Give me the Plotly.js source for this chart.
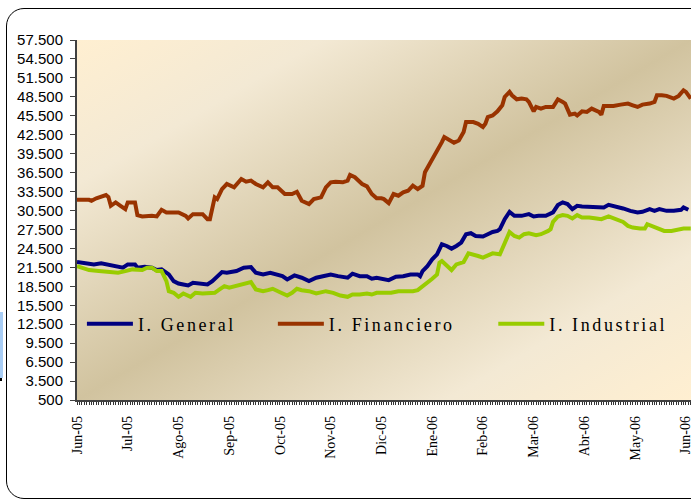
<!DOCTYPE html>
<html><head><meta charset="utf-8">
<script src="https://cdn.plot.ly/plotly-3.0.1.min.js"></script>
<style>
html,body{margin:0;padding:0;background:#fff;width:691px;height:501px;overflow:hidden}
#frame{position:absolute;left:6px;top:8px;width:740px;height:489px;border:1px solid #000;border-radius:18px;}
#mark{position:absolute;left:0;top:312px;width:3px;height:66px;background:#a8cdf5}
#mark2{position:absolute;left:0;top:378px;width:2px;height:3px;background:#000}
#chart{position:absolute;left:0;top:0;width:691px;height:501px}
svg text.legendtext, svg text.legend2text, svg text.legend3text{letter-spacing:2.6px !important}
</style></head><body>
<div id="frame"></div><div id="mark"></div><div id="mark2"></div>
<div id="chart"></div>
<script>
// Month labels (every 21 trading days)
const monthTickDays = [0,21,42,63,84,105,126,147,168,189,210,231,252];
const monthLabels = ["Jun-05","Jul-05","Ago-05","Sep-05","Oct-05","Nov-05","Dic-05","Ene-06","Feb-06","Mar-06","Abr-06","May-06","Jun-06"];
const yTickVals = [500,3500,6500,9500,12500,15500,18500,21500,24500,27500,30500,33500,36500,39500,42500,45500,48500,51500,54500,57500];
const yTickLabels = ["500","3.500","6.500","9.500","12.500","15.500","18.500","21.500","24.500","27.500","30.500","33.500","36.500","39.500","42.500","45.500","48.500","51.500","54.500","57.500"];

// I. General
const genDays = [0,2,5,7,10,12,15,17,19,21,24,25,28,31,33,35,37,38,40,42,44,46,48,50,52,54,56,58,60,62,65,66,69,72,74,77,80,83,85,87,90,93,96,99,103,105,108,112,114,117,120,122,124,126,129,132,135,138,141,142,143,145,146,147,149,151,153,155,157,159,161,163,165,168,170,172,174,175,177,179,181,184,187,189,191,193,194,197,199,201,203,205,207,209,212,215,218,220,223,226,229,232,234,237,239,241,244,247,250,251,253];
const genVals = [22340,22240,21970,21970,22130,21970,21610,21610,21450,21970,21970,21450,21610,21450,21070,21180,20650,20380,19320,18950,18790,18630,19060,18950,18950,18790,19320,20110,20750,20650,20750,20910,21450,21540,20650,20380,20650,20380,20110,19590,20230,19860,19320,19860,20230,20380,20110,19860,20500,20110,20110,19700,19860,19700,19480,20020,20110,20380,20380,20110,20910,21700,22340,22770,23570,25160,24890,24470,24890,25430,26750,26910,26480,26380,26750,27110,27270,27540,29130,30290,29660,29660,29930,29560,29660,29560,29660,30200,31360,31790,31520,30720,31250,31150,31090,31090,30990,31410,31150,30830,30450,30200,30290,30720,30450,30720,30450,30450,30610,30990,30610];

// I. Financiero
const finDays = [0,5,6,8,12,13,14,16,18,20,21,24,25,27,31,33,35,37,42,45,46,48,52,54,55,56,57,58,60,62,65,68,70,72,74,77,79,81,83,86,89,91,93,96,98,101,103,105,107,110,112,113,115,118,120,122,124,126,127,129,131,133,135,137,139,141,143,144,146,147,149,151,152,154,156,158,160,161,164,166,168,169,170,172,174,176,177,179,180,182,184,186,187,189,190,192,194,197,199,201,202,204,206,207,209,211,213,216,217,218,222,225,228,230,232,234,237,239,240,242,244,247,249,251,252,254];
const finVals = [32200,32200,32040,32430,32950,32630,31250,31790,31250,30720,31790,31790,29770,29560,29660,29560,30610,30200,30200,29660,29240,29930,29930,29130,29130,31250,32580,32310,33900,34700,34170,35500,35070,35230,34700,34170,34970,34170,34170,33110,33110,33470,32040,31520,32310,32580,34170,34970,35070,34970,35230,36130,35770,34700,34330,33110,32430,32430,32310,31680,33110,32840,33380,33630,34430,33900,34430,36560,37880,38410,40000,41330,42130,41590,41220,41590,42920,44510,44510,44240,43720,44240,45310,45560,46200,47160,48490,49290,48750,48110,48220,48110,47700,46200,46900,46630,46900,46900,48110,47700,47430,45680,45840,45560,46200,46110,46630,46110,45680,47060,47060,47270,47430,47160,46900,47270,47430,47700,48750,48750,48650,48220,48650,49540,49290,48220];

// I. Industrial
const indDays = [0,2,5,9,13,17,20,23,27,29,31,33,35,36,37,38,40,42,44,47,49,52,54,57,59,61,63,66,70,72,74,77,79,81,84,87,89,91,93,96,99,101,103,106,109,112,114,117,120,122,124,127,130,133,136,139,141,143,145,147,149,150,151,154,155,157,160,162,164,166,168,170,172,175,177,179,181,183,185,187,190,192,195,196,197,199,201,203,205,207,209,212,215,217,220,223,226,228,230,233,235,236,238,240,243,246,249,251,254];
const indVals = [21700,21450,21070,20910,20810,20650,20910,21180,21070,21450,21450,20910,20910,20110,19320,17730,17470,16840,17360,16840,17470,17360,17360,17470,18000,18520,18270,18520,18950,19160,18000,17730,17890,18110,17570,17040,17470,18110,17890,17730,17360,17570,17730,17470,17040,16840,17200,17200,17360,17200,17470,17470,17470,17730,17730,17730,17890,18430,19160,19700,20380,22240,22500,21450,21070,21970,22340,23720,23570,23300,23040,23410,23720,23570,25430,27110,26480,26220,26750,26910,26590,26750,27270,27540,28700,29560,29770,29660,29240,29770,29400,29400,29240,29130,29560,29130,28700,28070,27810,27650,27650,28340,28070,27650,27270,27270,27540,27650,27650];

const seriesNames = ["I. General","I. Financiero","I. Industrial"];
const seriesColors = ["#000080","#993300","#99CC00"];

const bgSvg = '<svg xmlns="http://www.w3.org/2000/svg" width="614" height="360" viewBox="0 0 100 100" preserveAspectRatio="none">' +
 '<defs><linearGradient id="g" x1="0" y1="0" x2="1" y2="1">' +
 '<stop offset="0" stop-color="#FFEFD1"/><stop offset="0.2" stop-color="#F3E9D4"/>' +
 '<stop offset="0.5" stop-color="#D1C39F"/><stop offset="0.8" stop-color="#F3E9D4"/>' +
 '<stop offset="1" stop-color="#FFEFD1"/></linearGradient></defs>' +
 '<rect x="0" y="0" width="100" height="100" fill="url(#g)"/></svg>';

const xs = [genDays, finDays, indDays];
const ys = [genVals, finVals, indVals];
const legendIds = ["legend","legend2","legend3"];
const traces = seriesNames.map((n,i)=>({
  type:'scatter', mode:'lines', name:n, x:xs[i], y:ys[i],
  line:{color:seriesColors[i], width:4}, legend:legendIds[i], hoverinfo:'skip'
}));

function legendCfg(xp){
  return {x:xp, y:0.211, xanchor:'left', yanchor:'middle', orientation:'h',
    bgcolor:'rgba(0,0,0,0)', borderwidth:0, itemwidth:46,
    font:{family:'Liberation Serif', size:18, color:'#000'}};
}

const layout = {
  width:691, height:501,
  margin:{l:77, r:0, t:40, b:101, pad:0},
  paper_bgcolor:'rgba(0,0,0,0)', plot_bgcolor:'rgba(0,0,0,0)',
  showlegend:true,
  legend:legendCfg(0.008), legend2:legendCfg(0.319), legend3:legendCfg(0.678),
  images:[{source:'data:image/svg+xml;charset=utf-8,'+encodeURIComponent(bgSvg),
    xref:'paper', yref:'paper', x:0, y:1, sizex:1, sizey:1, xanchor:'left', yanchor:'top',
    sizing:'stretch', layer:'below'}],
  xaxis:{range:[0,254.1], tickmode:'array', tickvals:monthTickDays, ticktext:monthLabels,
    tickangle:-90, ticks:'outside', ticklen:3, tickcolor:'#333', tickwidth:1,
    minor:{ticks:'outside', ticklen:3, tickmode:'linear', tick0:0, dtick:1, tickcolor:'#333', tickwidth:1},
    showline:true, linecolor:'#404040', linewidth:1.5, showgrid:false, zeroline:false,
    ticklabeloverflow:'allow',
    tickfont:{family:'Liberation Serif', size:14, color:'#000'}, ticklabelstandoff:6, automargin:false},
  yaxis:{range:[500,57500], tickmode:'array', tickvals:yTickVals, ticktext:yTickLabels,
    ticks:'outside', ticklen:5, tickcolor:'#404040', tickwidth:1,
    showline:true, linecolor:'#404040', linewidth:2, showgrid:false, zeroline:false,
    tickfont:{family:'Liberation Sans', size:15, color:'#000'}, ticklabelstandoff:4, automargin:false}
};
Plotly.newPlot('chart', traces, layout, {staticPlot:true, displayModeBar:false});
</script></body></html>
